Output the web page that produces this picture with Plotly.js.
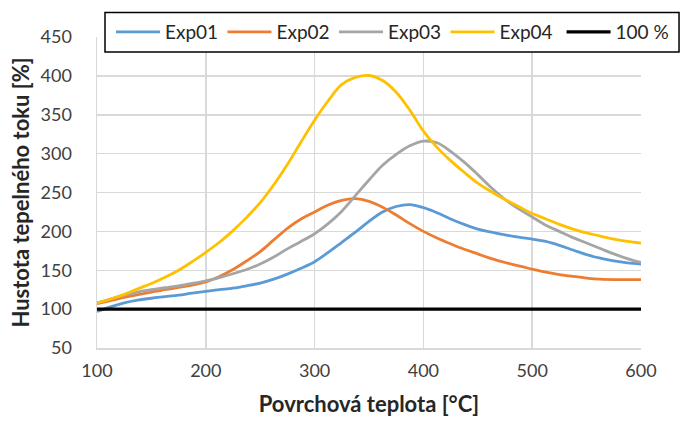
<!DOCTYPE html>
<html>
<head>
<meta charset="utf-8">
<script src="https://cdn.plot.ly/plotly-3.0.1.min.js"></script>
<style>html,body{margin:0;padding:0;background:#fff;}#chart{width:680px;height:423px;}</style>
</head>
<body>
<div id="chart"></div>
<script>
// Surface temperature [°C]
const temperature = [100,112.5,125,137.5,150,162.5,175,187.5,200,212.5,225,237.5,250,262.5,275,287.5,300,312.5,325,337.5,350,362.5,375,387.5,400,412.5,425,437.5,450,462.5,475,487.5,500,512.5,525,537.5,550,562.5,575,587.5,600];
// Heat flux density [%]
const exp01 = [97,103,108,111.5,114,116,118,120.5,122.7,125,127,130,133.5,138.5,145,152.5,161,173,186,199,213,225,232,234.5,230.5,224,216,209,203,199,195.5,192.5,190,187,182,176,170,165.5,162,159.5,158];
const exp02 = [107,111,115,118.5,122,125,128,131,135,142,151,162,174,189,204,216,225,234,240,242,238.5,231,221,210,200,191.5,184,177,171,165,160,155.5,151.5,147.5,144.5,142,140,138.5,138,138,138];
const exp03 = [108,113,118,122,125,127.5,130,133,136.5,140.5,145.5,151,158,167,177.5,187,197,210,226,246,266,285,299,310,316,314,303,289,273,256,241,229,218.5,208,200,192,185,178,171,165,160];
const exp04 = [108,113,119,126,133,141,150,161,173,186,201,218,237,260,286,315,343,368,389,398,400.5,394,379,356,329,308,291,276,262,251,241,232,223,216,209,203,198,194,190,187,185];
const refX = [100,600];
const refY = [100,100];
const seriesNames = ['Exp01','Exp02','Exp03','Exp04','100 %'];
const xTicks = [100,200,300,400,500,600];
const yTicks = [50,100,150,200,250,300,350,400,450];

const colors = ['#5B9BD5','#ED7D31','#A5A5A5','#FFC000','#000000'];
const ys = [exp01,exp02,exp03,exp04];
const traces = ys.map((y,i)=>({
  x: temperature, y: y, name: seriesNames[i], type:'scatter', mode:'lines', legend:'legend',
  line:{color:colors[i], width:2.8, shape:'spline', smoothing:1}
}));
traces.push({x:refX, y:refY, name:seriesNames[4], type:'scatter', mode:'lines', legend:'legend2',
  line:{color:colors[4], width:3.2}});

const fontFam = 'Lato, "Open Sans", sans-serif';
const legendFont = {family:fontFam, size:19, color:'#262626'};
// plot area in px: x 97..641, y 37..348
const layout = {
  width:680, height:423,
  margin:{l:97, r:39, t:37, b:75, pad:0, autoexpand:false},
  paper_bgcolor:'#ffffff', plot_bgcolor:'#ffffff',
  font:{family:fontFam, size:18, color:'#404040'},
  showlegend:true,
  legend:{orientation:'h', x:0.0257, xanchor:'left', y:1.016, yanchor:'middle',
    bgcolor:'rgba(0,0,0,0)', borderwidth:0, font:legendFont,
    itemwidth:44, entrywidth:52.5, traceorder:'normal'},
  legend2:{orientation:'h', x:0.854, xanchor:'left', y:1.016, yanchor:'middle',
    bgcolor:'rgba(0,0,0,0)', borderwidth:0, font:legendFont, itemwidth:44},
  shapes:[{type:'rect', xref:'paper', yref:'paper', x0:0.0147, x1:1.0699, y0:0.9517, y1:1.079,
    line:{color:'#000000', width:1.5}, fillcolor:'#ffffff', layer:'above'}],
  xaxis:{range:[100,600], tickvals:xTicks, ticktext:xTicks.map(String),
    showgrid:true, gridcolor:'#d9d9d9', gridwidth:1.5, zeroline:false,
    showline:true, linecolor:'#d9d9d9', linewidth:1.5, mirror:false,
    ticks:'', ticklabelstandoff:6, tickfont:{size:18, color:'#404040'},
    title:{text:'Povrchová teplota [°C]', font:{size:22, color:'#262626', weight:'bold'}, standoff:16}},
  yaxis:{range:[50,450], tickvals:yTicks, ticktext:yTicks.map(String),
    showgrid:true, gridcolor:'#d9d9d9', gridwidth:1.5, zeroline:false,
    showline:true, linecolor:'#d9d9d9', linewidth:1.5,
    ticks:'', ticklabelstandoff:20, tickfont:{size:18, color:'#404040'},
    title:{text:'Hustota tepelného toku [%]', font:{size:22, color:'#262626', weight:'bold'}, standoff:5}}
};
Plotly.newPlot('chart', traces, layout, {displayModeBar:false, staticPlot:true});
</script>
</body>
</html>
